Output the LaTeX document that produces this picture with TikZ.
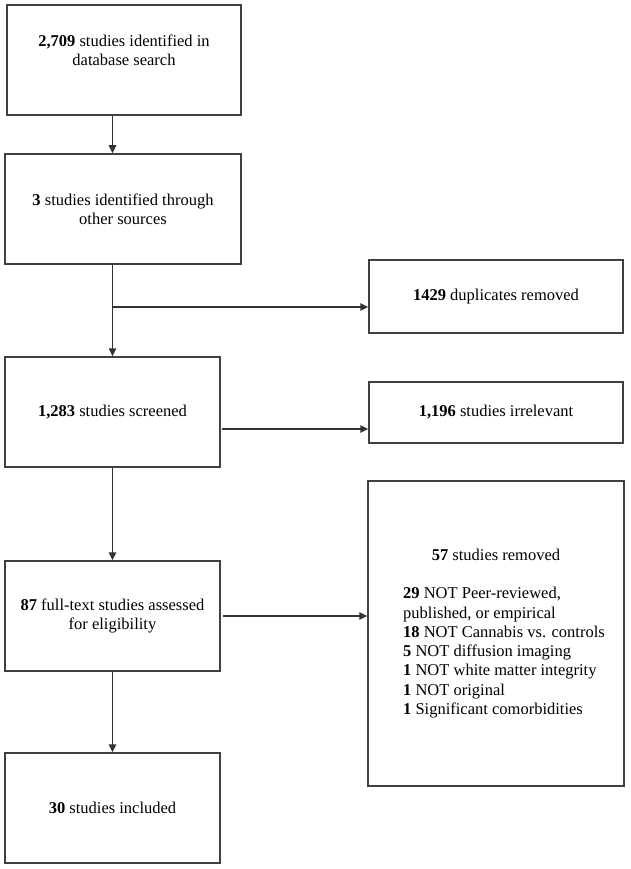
\documentclass[tikz,border=0pt]{standalone}
\usepackage{fontspec}
\setmainfont{Liberation Serif}
\usetikzlibrary{arrows.meta}

\begin{document}
\begin{tikzpicture}[x=1pt, y=-1pt,
    stage/.style={draw=black!75, line width=1.5pt, align=center, inner sep=0pt,
      font=\fontsize{16.5}{19.3}\selectfont},
    flow/.style={draw=black!80, line width=1.5pt, -{Triangle[length=8pt,width=7.5pt]}}]
            \useasboundingbox (0,0) rectangle (630,869);

            \node[stage, minimum width=234pt, minimum height=110pt] (search) at (124, 60) {\textbf{2,709} studies identified in\\ database search\\ \mbox{}};
            \node[stage, minimum width=236pt, minimum height=110pt] (other) at (123, 209) {\textbf{3} studies identified through\\ other sources};
            \node[stage, minimum width=215pt, minimum height=110pt] (screened) at (112.5, 412) {\textbf{1,283} studies screened};
            \node[stage, minimum width=215pt, minimum height=110pt] (fulltext) at (112.5, 616) {\textbf{87} full-text studies assessed\\ for eligibility};
            \node[stage, minimum width=215pt, minimum height=110pt] (included) at (112.5, 808) {\textbf{30} studies included};

            \node[stage, minimum width=254pt, minimum height=73pt] (dups) at (496, 296.5) {\textbf{1429} duplicates removed};
            \node[stage, minimum width=254pt, minimum height=61pt] (irrelevant) at (496, 412.5) {\textbf{1,196} studies irrelevant};
            \node[stage, minimum width=256pt, minimum height=305pt] (removed) at (496, 633.5) {\hspace*{16pt}\begin{tabular}{@{}l@{}}
              \multicolumn{1}{@{}c@{}}{\hspace*{-16pt}\textbf{57} studies removed}\\
              \\
              \textbf{29} NOT Peer-reviewed,\\
              published, or empirical\\
              \textbf{18} NOT Cannabis vs. controls\\
              \textbf{5} NOT diffusion imaging\\
              \textbf{1} NOT white matter integrity\\
              \textbf{1} NOT original\\
              \textbf{1} Significant comorbidities
            \end{tabular}};

            \coordinate (split) at (113, 307);
            \coordinate (scrout) at (222, 429);

            \draw[flow] (search.south -| screened) -- (other.north -| screened);
            \draw[flow] (other.south -| screened) -- (screened.north);
            \draw[flow] (split) -- (split -| dups.west);
            \draw[flow] (scrout) -- (scrout -| irrelevant.west);
            \draw[flow] (screened.south) -- (fulltext.north);
            \draw[flow] ([xshift=2pt]fulltext.east) -- (fulltext.east -| removed.west);
            \draw[flow] (fulltext.south) -- (included.north);
          \end{tikzpicture}
\end{document}
